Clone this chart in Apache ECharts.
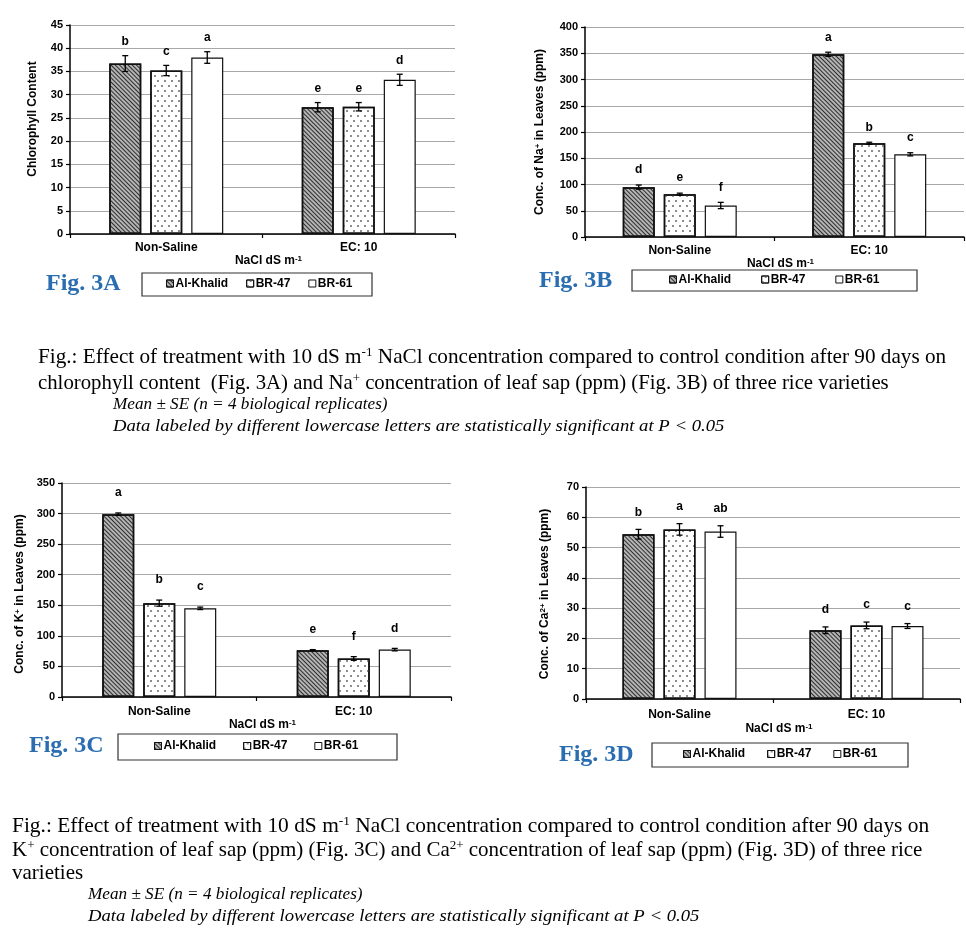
<!DOCTYPE html>
<html>
<head>
<meta charset="utf-8">
<script src="https://cdn.jsdelivr.net/npm/echarts@6/dist/echarts.min.js"></script>
<style>
html,body{margin:0;padding:0;background:#fff;}
#c{width:966px;height:929px;}
</style>
</head>
<body>
<div id="c"></div>
<script>
// ---------- DATA ----------
const categories = ['Non-Saline', 'EC: 10'];
const varieties = ['Al-Khalid', 'BR-47', 'BR-61'];

// Fig. 3A Chlorophyll content  [variety][category]
const chlValues  = [[36.7, 27.3], [35.2, 27.4], [38.0, 33.2]];
const chlErrors  = [[1.7, 1.0], [1.1, 0.9], [1.25, 1.2]];
const chlLetters = [['b', 'e'], ['c', 'e'], ['a', 'd']];

// Fig. 3B Na+ (ppm)
const naValues  = [[95, 348], [81.5, 178.5], [60, 157.5]];
const naErrors  = [[4, 4], [2, 2], [6, 3]];
const naLetters = [['d', 'a'], ['e', 'b'], ['f', 'c']];

// Fig. 3C K+ (ppm)
const kValues  = [[299, 76.5], [153.5, 63], [145, 77.5]];
const kErrors  = [[2, 1], [5, 3], [2, 2]];
const kLetters = [['a', 'e'], ['b', 'f'], ['c', 'd']];

// Fig. 3D Ca2+ (ppm)
const caValues  = [[54.4, 22.7], [56.0, 24.3], [55.3, 24.1]];
const caErrors  = [[1.6, 1.1], [1.9, 1.1], [1.9, 0.8]];
const caLetters = [['b', 'd'], ['a', 'c'], ['ab', 'c']];

const yMaxes = [45, 400, 350, 70];
const yIntervals = [5, 50, 50, 10];

// ---------- STYLE / LAYOUT ----------
const SANS = 'Liberation Sans, Arial, sans-serif';
const SERIF = 'Liberation Serif, Times New Roman, serif';
const charts = [
  {values: chlValues, errors: chlErrors, letters: chlLetters, grid: {left: 70, top: 25, width: 385, height: 209}, letterOff: 14, labelMargin: 8, nameGap: 20},
  {values: naValues, errors: naErrors, letters: naLetters, grid: {left: 585, top: 27, width: 379, height: 210}, letterOff: 15, labelMargin: 8, nameGap: 15},
  {values: kValues, errors: kErrors, letters: kLetters, grid: {left: 62, top: 483, width: 389, height: 214}, letterOff: 20, labelMargin: 9, nameGap: 20},
  {values: caValues, errors: caErrors, letters: caLetters, grid: {left: 586, top: 487, width: 374, height: 212}, letterOff: 17, labelMargin: 10, nameGap: 24}
];

const barStyles = [
  {color: '#b4b4b4', borderColor: '#111', borderWidth: 1.5,
   decal: {symbol: 'rect', symbolSize: 1, dashArrayX: [1, 0], dashArrayY: [1, 1.4], rotation: Math.PI / 4, color: '#2e2e2e'}},
  {color: '#ffffff', borderColor: '#111', borderWidth: 1.5,
   decal: {symbol: 'rect', symbolSize: 1, dashArrayX: [[1.2, 4.5], [0, 2.8, 1.2, 1.7]], dashArrayY: [1.2, 2.6], rotation: 0, color: '#8c8c8c'}},
  {color: '#ffffff', borderColor: '#111', borderWidth: 1.2}
];

const BAR_W = 32, BAR_GAP = 9;

const grids = [], xAxes = [], yAxes = [], series = [];
charts.forEach((ch, gi) => {
  grids.push(Object.assign({containLabel: false}, ch.grid));
  xAxes.push({
    type: 'category', gridIndex: gi, data: categories,
    axisLine: {lineStyle: {color: '#000', width: 1.5}},
    axisTick: {show: true, alignWithLabel: false, length: 4, lineStyle: {color: '#000', width: 1.2}},
    axisLabel: {color: '#000', fontFamily: SANS, fontWeight: 'bold', fontSize: 12, margin: ch.labelMargin},
    name: 'NaCl dS m{sup|-1}', nameLocation: 'middle', nameGap: ch.nameGap,
    nameTextStyle: {color: '#000', fontFamily: SANS, fontWeight: 'bold', fontSize: 12, padding: [0, 0, 0, 12],
      rich: {sup: {fontSize: 8, fontWeight: 'bold', fontFamily: SANS, verticalAlign: 'top', lineHeight: 8, color: '#000'}}}
  });
  yAxes.push({
    type: 'value', gridIndex: gi, min: 0, max: yMaxes[gi], interval: yIntervals[gi],
    axisLine: {show: true, lineStyle: {color: '#000', width: 1.5}},
    axisTick: {show: true, length: 4, lineStyle: {color: '#000', width: 1.2}},
    axisLabel: {color: '#000', fontFamily: SANS, fontWeight: 'bold', fontSize: 11, margin: 7},
    splitLine: {show: true, lineStyle: {color: '#a8a8a8', width: 1}}
  });
  varieties.forEach((v, vi) => {
    series.push({
      type: 'bar', name: v, xAxisIndex: gi, yAxisIndex: gi,
      data: ch.values[vi], barWidth: BAR_W, barGap: (BAR_GAP / BAR_W * 100) + '%',
      itemStyle: barStyles[vi], emphasis: {disabled: true}, silent: true, animation: false
    });
  });
  const errData = [];
  varieties.forEach((v, vi) => {
    categories.forEach((c, ci) => {
      errData.push([ci, ch.values[vi][ci], ch.errors[vi][ci], vi]);
    });
  });
  series.push({
    type: 'custom', name: 'err' + gi, xAxisIndex: gi, yAxisIndex: gi,
    encode: {x: 0, y: 1}, data: errData, silent: true, animation: false, z: 5,
    renderItem: function (params, api) {
      const ci = api.value(0), val = api.value(1), err = api.value(2), vi = api.value(3);
      const base = api.coord([ci, val]);
      const cx = base[0] + (vi - 1) * (BAR_W + BAR_GAP);
      const yTop = api.coord([ci, val + err])[1];
      const yBot = api.coord([ci, val - err])[1];
      const cap = 3;
      const ls = {stroke: '#000', lineWidth: 1.3};
      return {type: 'group', children: [
        {type: 'line', shape: {x1: cx, y1: yTop, x2: cx, y2: yBot}, style: ls},
        {type: 'line', shape: {x1: cx - cap, y1: yTop, x2: cx + cap, y2: yTop}, style: ls},
        {type: 'line', shape: {x1: cx - cap, y1: yBot, x2: cx + cap, y2: yBot}, style: ls},
        {type: 'text', x: cx, y: yTop - ch.letterOff, style: {
          text: ch.letters[vi][ci], fill: '#000', font: 'bold 12px ' + SANS, align: 'center', verticalAlign: 'middle'}}
      ]};
    }
  });
});

const legendBoxes = [
  {x: 142, y: 273, w: 230, h: 23, itemLeft: 166, gap: 18},
  {x: 632, y: 270, w: 285, h: 21, itemLeft: 669, gap: 30},
  {x: 118, y: 734, w: 279, h: 26, itemLeft: 154, gap: 27},
  {x: 652, y: 743, w: 256, h: 24, itemLeft: 683, gap: 22}
];
const legends = legendBoxes.map(b => ({
  left: b.itemLeft, top: b.y + b.h / 2 - 7, orient: 'horizontal', data: varieties,
  itemWidth: 7, itemHeight: 7, itemGap: b.gap, icon: 'rect', selectedMode: false, padding: 0,
  itemStyle: {borderWidth: 1},
  textStyle: {color: '#000', fontFamily: SANS, fontWeight: 'bold', fontSize: 12, padding: [0, 0, 0, -3]}
}));

const graphics = [];
legendBoxes.forEach(b => {
  graphics.push({type: 'rect', shape: {x: b.x, y: b.y, width: b.w, height: b.h}, style: {fill: 'none', stroke: '#333', lineWidth: 1.2}, z: 1});
});
const figLabels = [
  {t: 'Fig. 3A', x: 46, y: 284},
  {t: 'Fig. 3B', x: 539, y: 281},
  {t: 'Fig. 3C', x: 29, y: 746},
  {t: 'Fig. 3D', x: 559, y: 755}
];
figLabels.forEach(f => graphics.push({type: 'text', x: f.x, y: f.y, style: {text: f.t, fill: '#2a6db0', font: 'bold 24px ' + SERIF, align: 'left', verticalAlign: 'middle'}}));

const supRich = {sup: {fontSize: 8, fontWeight: 'bold', fontFamily: SANS, verticalAlign: 'top', lineHeight: 8, fill: '#000'}};
const yNames = [
  {t: 'Chlorophyll Content', x: 33, y: 119},
  {t: 'Conc. of Na{sup|+} in Leaves (ppm)', x: 540, y: 132},
  {t: 'Conc. of K{sup|+} in Leaves (ppm)', x: 20, y: 594},
  {t: 'Conc. of Ca{sup|2+} in Leaves (ppm)', x: 545, y: 594}
];
yNames.forEach(n => graphics.push({type: 'text', x: n.x, y: n.y, rotation: Math.PI / 2,
  style: {text: n.t, fill: '#000', font: 'bold 12px ' + SANS, align: 'center', verticalAlign: 'middle', rich: supRich}}));

const capRich = {sup: {fontSize: 13, fontFamily: SERIF, verticalAlign: 'top', lineHeight: 13, fill: '#000'}};
const captionLines = [
  {t: 'Fig.: Effect of treatment with 10 dS m{sup|-1} NaCl concentration compared to control condition after 90 days on', x: 38, y: 357, it: false, sx: 1.01},
  {t: 'chlorophyll content  (Fig. 3A) and Na{sup|+} concentration of leaf sap (ppm) (Fig. 3B) of three rice varieties', x: 38, y: 383, it: false, sx: 0.99},
  {t: 'Mean ± SE (n = 4 biological replicates)', x: 113, y: 405, it: true, sx: 1.01},
  {t: 'Data labeled by different lowercase letters are statistically significant at P < 0.05', x: 113, y: 427, it: true, sx: 1.1},
  {t: 'Fig.: Effect of treatment with 10 dS m{sup|-1} NaCl concentration compared to control condition after 90 days on', x: 12, y: 826, it: false, sx: 1.02},
  {t: 'K{sup|+} concentration of leaf sap (ppm) (Fig. 3C) and Ca{sup|2+} concentration of leaf sap (ppm) (Fig. 3D) of three rice', x: 12, y: 850, it: false, sx: 1.0},
  {t: 'varieties', x: 12, y: 873, it: false, sx: 1.0},
  {t: 'Mean ± SE (n = 4 biological replicates)', x: 88, y: 895, it: true, sx: 1.01},
  {t: 'Data labeled by different lowercase letters are statistically significant at P < 0.05', x: 88, y: 917, it: true, sx: 1.1}
];
captionLines.forEach(l => graphics.push({type: 'text', x: l.x, y: l.y, scaleX: l.sx,
  style: {text: l.t, fill: '#000', font: (l.it ? 'italic 17px ' : '21px ') + SERIF, align: 'left', verticalAlign: 'middle', rich: capRich}}));

const chart = echarts.init(document.getElementById('c'), null, {renderer: 'canvas'});
chart.setOption({
  backgroundColor: '#ffffff',
  animation: false,
  grid: grids, xAxis: xAxes, yAxis: yAxes, series: series,
  legend: legends,
  graphic: graphics
});
</script>
</body>
</html>
